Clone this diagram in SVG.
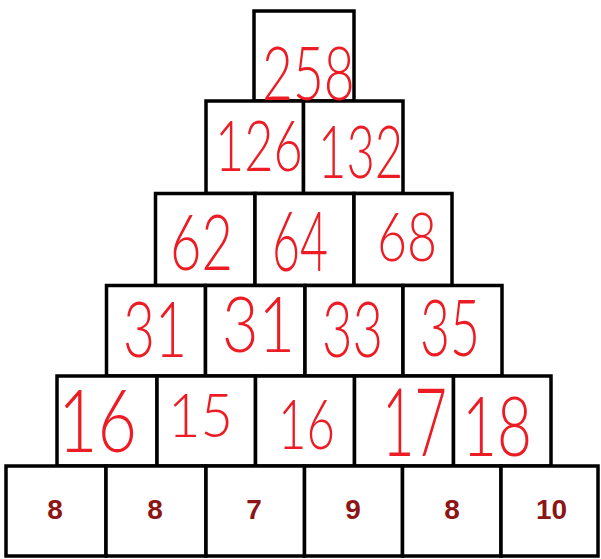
<svg xmlns="http://www.w3.org/2000/svg" width="601" height="559" viewBox="0 0 601 559">
<style>
.box{fill:#ffffff;stroke:#000000;stroke-width:3.5}
.base{font-family:"Liberation Sans",Arial,sans-serif;font-weight:bold;font-size:28px;fill:#8c1616;text-anchor:middle}
.hw{font-family:Lato,"Open Sans","Liberation Sans",sans-serif;font-weight:300;fill:#ed1c24}
</style>
<rect width="601" height="559" fill="#ffffff"/>
<g id="row1">
<g id="n258"><rect class="box" x="254" y="11" width="100" height="90"/></g>
</g>
<g id="row2">
<g id="n126"><rect class="box" x="206" y="101" width="97.5" height="92.5"/></g>
<g id="n132"><rect class="box" x="303.5" y="101" width="99.5" height="92.5"/></g>
</g>
<g id="row3">
<g id="n62"><rect class="box" x="155.5" y="193.5" width="99.5" height="92"/></g>
<g id="n64"><rect class="box" x="255" y="193.5" width="99" height="92"/></g>
<g id="n68"><rect class="box" x="354" y="193.5" width="98" height="92"/></g>
</g>
<g id="row4">
<g id="n31a"><rect class="box" x="106.5" y="285.5" width="99" height="90.5"/></g>
<g id="n31b"><rect class="box" x="205.5" y="285.5" width="99.5" height="90.5"/></g>
<g id="n33"><rect class="box" x="305" y="285.5" width="98" height="90.5"/></g>
<g id="n35"><rect class="box" x="403" y="285.5" width="99" height="90.5"/></g>
</g>
<g id="row5">
<g id="n16a"><rect class="box" x="57" y="376" width="100" height="90"/></g>
<g id="n15"><rect class="box" x="157" y="376" width="98.5" height="90"/></g>
<g id="n16b"><rect class="box" x="255.5" y="376" width="99" height="90"/></g>
<g id="n17"><rect class="box" x="354.5" y="376" width="99" height="90"/></g>
<g id="n18"><rect class="box" x="453.5" y="376" width="97.5" height="90"/></g>
</g>
<g id="row6">
<g id="b1"><rect class="box" x="6" y="466" width="100" height="90"/><text class="base" x="55" y="519">8</text></g>
<g id="b2"><rect class="box" x="106" y="466" width="100" height="90"/><text class="base" x="155" y="519">8</text></g>
<g id="b3"><rect class="box" x="206" y="466" width="98.5" height="90"/><text class="base" x="254" y="519">7</text></g>
<g id="b4"><rect class="box" x="304.5" y="466" width="98" height="90"/><text class="base" x="353" y="519">9</text></g>
<g id="b5"><rect class="box" x="402.5" y="466" width="98.5" height="90"/><text class="base" x="452" y="519">8</text></g>
<g id="b6"><rect class="box" x="501" y="466" width="97" height="90"/><text class="base" x="551.5" y="519">10</text></g>
</g>
<g id="handwritten">
<text class="hw" font-size="74" transform="translate(262,100) scale(0.72,1)">258</text>
<text class="hw" font-size="70" transform="translate(215,171) scale(0.72,1)">126</text>
<text class="hw" font-size="72" transform="translate(318,178) scale(0.68,1)">132</text>
<text class="hw" font-size="76" transform="translate(170,270) scale(0.714,1)">62</text>
<text class="hw" font-size="82" transform="translate(272,271) scale(0.589,1)">64</text>
<text class="hw" font-size="68" transform="translate(377,261) scale(0.761,1)">68</text>
<text class="hw" font-size="76" transform="translate(123,357) scale(0.726,1)">31</text>
<text class="hw" font-size="76" transform="translate(222,352) scale(0.828,1)">31</text>
<text class="hw" font-size="76" transform="translate(322,357) scale(0.692,1)">33</text>
<text class="hw" font-size="78" transform="translate(420,356) scale(0.663,1)">35</text>
<text class="hw" font-size="86" transform="translate(58,452) scale(0.792,1)">16</text>
<text class="hw" font-size="62" transform="translate(168,437) scale(0.904,1)">15</text>
<text class="hw" font-size="69" transform="translate(278,449) scale(0.712,1)">16</text>
<text class="hw" font-size="94" transform="translate(382,456) scale(0.596,1)">17</text>
<text class="hw" font-size="82" transform="translate(462,456) scale(0.736,1)">18</text>
</g>
</svg>
